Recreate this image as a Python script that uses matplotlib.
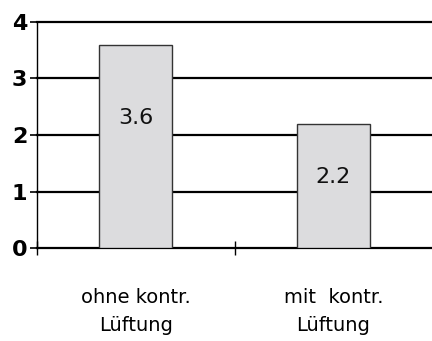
import numpy as np
import matplotlib.pyplot as plt

# Werte je Variante
kategorien = ["ohne kontr.\nLüftung", "mit  kontr.\nLüftung"]
werte = [3.6, 2.2]
beschriftungen = ["3.6", "2.2"]
label_anteil = [0.64, 0.57]  # Höhe der Wertbeschriftung relativ zum Balken
y_ticks = [0, 1, 2, 3, 4]

fig = plt.figure(figsize=(4.32, 3.41), dpi=100)
ax = fig.add_axes([0.0856, 0.2727, 0.915, 0.6628])

x = np.arange(len(werte))
bars = ax.bar(x, werte, width=0.37, color="#dcdcde", edgecolor="#333333",
              linewidth=1.0, zorder=3)

for xi, v, txt, f in zip(x, werte, beschriftungen, label_anteil):
    ax.text(xi, v * f, txt, ha="center", va="center", fontsize=16,
            color="#111111", zorder=4)

ax.set_xlim(-0.5, 1.5)
ax.set_ylim(0, 4)

# horizontale Linien
for yv in y_ticks:
    ax.axhline(yv, color="black", linewidth=1.6, zorder=2, clip_on=False)

ax.set_yticks(y_ticks)
ax.set_yticklabels([str(t) for t in y_ticks], fontsize=16, fontweight="bold")
ax.tick_params(axis="y", length=5, width=1.2, pad=2)

ax.set_xticks(x)
ax.set_xticklabels(kategorien, fontsize=14, linespacing=1.6)
ax.tick_params(axis="x", which="major", length=0, pad=29)
ax.set_xticks([-0.5, 0.5], minor=True)
ax.tick_params(axis="x", which="minor", direction="inout", length=10, width=1.0)

for s in ["top", "right", "bottom"]:
    ax.spines[s].set_visible(False)
ax.spines["left"].set_linewidth(1.0)

fig.savefig("out.png", dpi=100)
